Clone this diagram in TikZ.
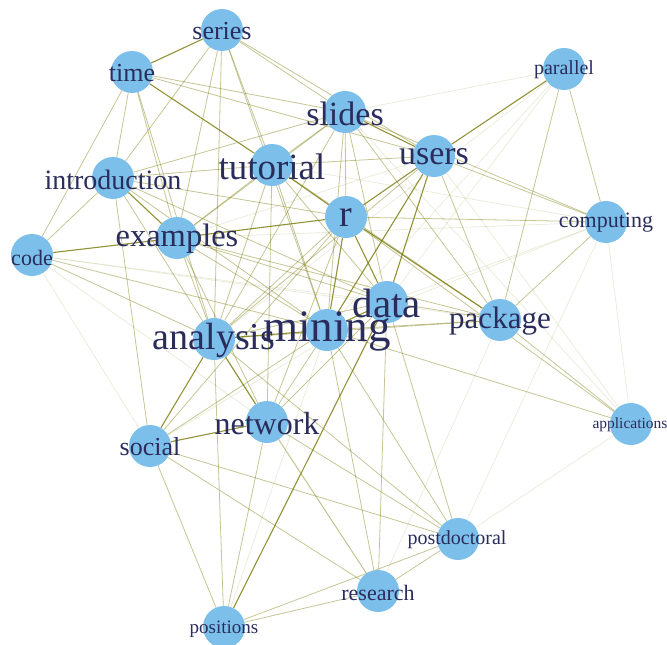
\documentclass[tikz,border=0pt]{standalone}
\usepackage{fontspec}
\setmainfont{Liberation Serif}
\usetikzlibrary{backgrounds}
\definecolor{nodeblue}{RGB}{124,191,235}
\definecolor{labelnavy}{RGB}{42,45,92}
\definecolor{edgeolive}{RGB}{128,128,20}
\tikzset{
  term/.style={circle, fill=nodeblue, minimum size=42pt, inner sep=0pt},
  lbl/.style={text=labelnavy, inner sep=0pt, anchor=center},
  tsize/.style={font=\fontsize{#1}{#1}\selectfont},
  strongedge/.style={draw=edgeolive, line width=1.1pt, opacity=0.85},
  mededge/.style={draw=edgeolive, line width=0.8pt, opacity=0.45},
  faintedge/.style={draw=edgeolive, line width=0.7pt, opacity=0.16},
}
\begin{document}
\begin{tikzpicture}[x=1pt,y=-1pt]
\useasboundingbox (0,0) rectangle (667,645);
% circles
\node[term] (S) at (222,30) {};
\node[term] (T) at (132,72) {};
\node[term] (P) at (564,69) {};
\node[term] (SL) at (345,112) {};
\node[term] (U) at (434,156) {};
\node[term] (TU) at (272,165) {};
\node[term] (I) at (113,178) {};
\node[term] (R) at (346,217) {};
\node[term] (C) at (606,222) {};
\node[term] (E) at (177,238) {};
\node[term] (CO) at (32,255) {};
\node[term] (D) at (387,302) {};
\node[term] (PK) at (500,320) {};
\node[term] (M) at (327,330) {};
\node[term] (A) at (214,339) {};
\node[term] (AP) at (631,424) {};
\node[term] (N) at (267,422) {};
\node[term] (SO) at (150,446) {};
\node[term] (PD) at (458,539) {};
\node[term] (RE) at (378,591) {};
\node[term] (PO) at (224,627) {};
% edges
\begin{scope}[on background layer]
\fill[white] (0,0) rectangle (667,645);
\foreach \a/\b in {S/T, T/TU, TU/R, E/R, CO/E, R/U, U/P, R/PK, SL/U, A/SO, SO/N, A/N, D/PO, D/M, A/M, R/M, R/D, U/M, U/D, E/I}
  \draw[strongedge] (\a) -- (\b);
\foreach \a/\b in {S/I, S/TU, S/A, S/M, S/SL, S/U, S/E,
  T/CO, T/SL, T/U, T/E, T/A, T/I,
  I/TU, I/SL, I/A, I/M, I/D, I/SO, I/R, I/CO,
  CO/A, CO/M,
  TU/E, TU/A, TU/M, TU/D, TU/N, TU/U, TU/SL, TU/PK,
  SL/R, SL/D, SL/M, SL/A, SL/PK, SL/C, SL/E,
  U/C, U/PK, U/A,
  P/C, P/PK,
  R/C, R/A, R/N, R/SO,
  C/PK,
  E/A, E/M, E/D, E/N, E/PK,
  D/PK, M/PK, A/D, A/PK,
  M/AP, PK/AP, R/AP,
  N/M, N/D, N/PO, N/RE, N/PD,
  SO/M, SO/PD, SO/RE, SO/PO,
  A/PO, A/PD,
  PD/D, PD/M, PD/RE,
  RE/D, RE/M,
  PO/PD, PO/RE}
  \draw[mededge] (\a) -- (\b);
\foreach \a/\b in {P/SL, P/D, P/M, P/A,
  C/M, C/D, C/PD, C/AP, C/TU, C/E,
  AP/PD, AP/U, AP/SL,
  CO/D, CO/PK, CO/N, CO/SO,
  RE/PK, RE/A, PO/M, U/E, SO/D}
  \draw[faintedge] (\a) -- (\b);
\end{scope}
% labels
\node[lbl, tsize=26] (S-l) at (222,31) {series};
\node[lbl, tsize=26] (T-l) at (132,73) {time};
\node[lbl, tsize=20] (P-l) at (564,70) {parallel};
\node[lbl, tsize=34] (SL-l) at (345,114) {slides};
\node[lbl, tsize=34] (U-l) at (434,157) {users};
\node[lbl, tsize=37] (TU-l) at (272,167) {tutorial};
\node[lbl, tsize=28] (I-l) at (113,180) {introduction};
\node[lbl, tsize=38] (R-l) at (346,218) {r};
\node[lbl, tsize=22] (C-l) at (606,223) {computing};
\node[lbl, tsize=32.5] (E-l) at (177,239) {examples};
\node[lbl, tsize=22] (CO-l) at (32,258) {code};
\node[lbl, tsize=41] (D-l) at (387,303) {data};
\node[lbl, tsize=31] (PK-l) at (500,321) {package};
\node[lbl, tsize=45] (M-l) at (327,331) {mining};
\node[lbl, tsize=38] (A-l) at (214,340) {analysis};
\node[lbl, tsize=15.5] (AP-l) at (630,425) {applications};
\node[lbl, tsize=32] (N-l) at (267,424) {network};
\node[lbl, tsize=26] (SO-l) at (150,447) {social};
\node[lbl, tsize=20] (PD-l) at (457,540) {postdoctoral};
\node[lbl, tsize=22] (RE-l) at (378,593) {research};
\node[lbl, tsize=19] (PO-l) at (224,629) {positions};
\end{tikzpicture}
\end{document}
